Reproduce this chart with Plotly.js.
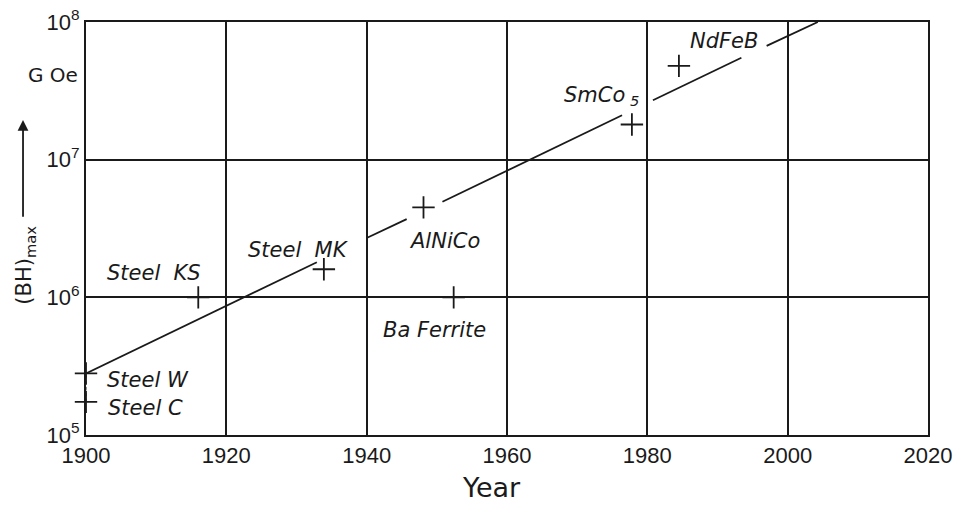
<!DOCTYPE html>
<html><head><meta charset="utf-8">
<script src="https://cdn.plot.ly/plotly-3.0.1.min.js"></script>
<style>body{margin:0;background:#fff}#c{width:960px;height:505px}</style>
</head><body><div id="c"></div>
<script>
// Materials: year of introduction and (BH)max in G·Oe
const materials = ["Steel W", "Steel C", "Steel KS", "Steel MK", "AlNiCo", "Ba Ferrite", "SmCo5", "NdFeB"];
const years     = [1900, 1900, 1916, 1933.9, 1948.1, 1952.4, 1977.8, 1984.5];
const bhMax     = [2.8e5, 1.74e5, 1.0e6, 1.6e6, 4.5e6, 1.0e6, 1.8e7, 4.8e7];

// Trend line (drawn in broken segments, null = gap)
const trendYears  = [1900, 1932.9, null, 1940, 1945.7, null, 1950.8, 1976.4, null, 1980.8, 1993.4, null, 1997, 2004.3];
const trendValues = [2.8e5, 1.8e6, null, 2.7e6, 3.7e6, null, 4.95e6, 2.1e7, null, 2.7e7, 5.5e7, null, 6.7e7, 1.0e8];

// Dotted connector between Steel W and Steel C
const connYears  = [1900, 1900];
const connValues = [1.74e5, 2.8e5];

const xTicks = [1900, 1920, 1940, 1960, 1980, 2000, 2020];
const yTicks = [1e5, 1e6, 1e7, 1e8];
const yTickText = ["10<sup>5</sup>", "10<sup>6</sup>", "10<sup>7</sup>", "10<sup>8</sup>"];

const ink = "#1a1a1a";
const sans = "DejaVu Sans, Liberation Sans, Arial, sans-serif";
const labelFont = {family: sans, size: 21, color: ink, style: "italic"};

const traces = [
  {x: trendYears, y: trendValues, mode: "lines", line: {color: ink, width: 1.8}, connectgaps: false, hoverinfo: "skip", cliponaxis: false},
  {x: connYears, y: connValues, mode: "lines", line: {color: ink, width: 1, dash: "dot"}, hoverinfo: "skip", cliponaxis: false},
  {x: years, y: bhMax, mode: "markers", text: materials, cliponaxis: false,
   marker: {symbol: "cross-thin-open", size: 16, color: ink, line: {color: ink, width: 1.8}}}
];

// label placement relative to each point (pixel shifts)
const labelPlacement = {
  "Steel W":   {dx: 62,  dy: -7,  text: "Steel W"},
  "Steel C":   {dx: 59,  dy: -6,  text: "Steel C"},
  "Steel KS":  {dx: -44, dy: 24,  text: "Steel  KS"},
  "Steel MK":  {dx: -25, dy: 19,  text: "Steel  MK"},
  "AlNiCo":    {dx: 21,  dy: -34, text: "AlNiCo"},
  "Ba Ferrite":{dx: -19, dy: -33, text: "Ba Ferrite"},
  "SmCo5":     {dx: -30, dy: 29,  text: "SmCo<sub> 5</sub>"},
  "NdFeB":     {dx: 45,  dy: 25,  text: "NdFeB"}
};

const annotations = materials.map((m, i) => ({
  x: years[i], y: Math.log10(bhMax[i]), xref: "x", yref: "y",
  text: labelPlacement[m].text, showarrow: false,
  xanchor: "center", yanchor: "middle",
  xshift: labelPlacement[m].dx, yshift: labelPlacement[m].dy,
  font: labelFont
}));

annotations.push(
  {x: -0.0071, y: 0.872, xref: "paper", yref: "paper", text: "G Oe", showarrow: false,
   font: {family: sans, size: 20, color: ink}, xanchor: "right", yanchor: "middle"},
  {x: -0.0724, y: 0.41, xref: "paper", yref: "paper", text: "(BH)<sub>max</sub>", showarrow: false, textangle: -90,
   xanchor: "center", yanchor: "middle",
   font: {family: sans, size: 21, color: ink}},
  {x: -0.0748, y: 0.763, xref: "paper", yref: "paper", ax: -0.0748, ay: 0.525, axref: "paper", ayref: "paper",
   text: "", showarrow: true, arrowhead: 2, arrowsize: 1.2, arrowwidth: 1.8, arrowcolor: ink},
  {x: 0.481, y: -0.128, xref: "paper", yref: "paper", text: "Year", showarrow: false,
   xanchor: "center", font: {family: sans, size: 27, color: ink}, yanchor: "middle"}
);

const layout = {
  width: 960, height: 505,
  margin: {l: 86, r: 32, t: 22, b: 70},
  paper_bgcolor: "#fff", plot_bgcolor: "#fff",
  showlegend: false,
  xaxis: {range: [1900, 2020], tickvals: xTicks, ticktext: xTicks.map(String),
          showgrid: true, gridcolor: ink, gridwidth: 2, zeroline: false,
          showline: true, linecolor: ink, linewidth: 2, mirror: true, ticks: "",
          tickfont: {family: "Liberation Sans, Arial, sans-serif", size: 22, color: ink}},
  yaxis: {type: "log", range: [5, 8], tickvals: yTicks, ticktext: yTickText,
          showgrid: true, gridcolor: ink, gridwidth: 2, zeroline: false,
          showline: true, linecolor: ink, linewidth: 2, mirror: true, ticks: "",
          tickfont: {family: "Liberation Sans, Arial, sans-serif", size: 22, color: ink}},
  annotations: annotations
};

Plotly.newPlot("c", traces, layout, {displayModeBar: false, staticPlot: true});
</script></body></html>
